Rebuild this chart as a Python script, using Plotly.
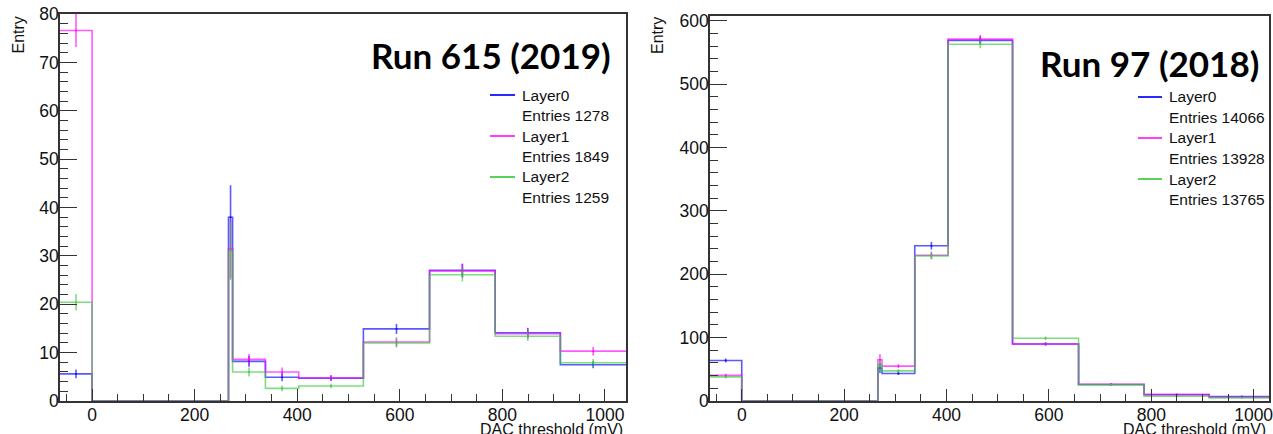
import numpy as np
import plotly.graph_objects as go

# DAC threshold bin edges (mV), shared by both runs
bin_edges = [-62.5, 0, 266, 274, 338, 403, 529, 658, 786, 913, 1041]

layers = ["Layer0", "Layer1", "Layer2"]

# Run 615 (2019)
run615_entries = [1278, 1849, 1259]
run615_layer0 = [5.6, 0, 38.0, 8.2, 4.9, 4.7, 14.9, 27.0, 14.1, 7.5]
run615_layer1 = [76.6, 0, 31.4, 8.6, 6.0, 4.8, 12.2, 26.9, 13.9, 10.3]
run615_layer2 = [20.4, 0, 31.0, 6.0, 2.6, 3.1, 12.0, 26.1, 13.4, 7.9]
run615_err0 = [0.9, 0, 6.6, 1.1, 0.84, 0.59, 1.04, 1.4, 1.02, 0.74]
run615_err1 = [3.4, 0, 6.0, 1.12, 0.93, 0.6, 0.94, 1.4, 1.01, 0.87]
run615_err2 = [1.7, 0, 6.0, 0.93, 0.61, 0.48, 0.93, 1.37, 0.99, 0.76]

# Run 97 (2018)
run97_entries = [14066, 13928, 13765]
run97_layer0 = [64, 0, 52, 43.5, 245, 569, 90, 26, 9.8, 7]
run97_layer1 = [40.5, 0, 65, 55, 230, 571, 90, 26.5, 10.5, 6]
run97_layer2 = [38, 0, 57, 47.5, 229, 563, 99, 25.5, 7.4, 5]
run97_err0 = [3.1, 0, 7.8, 2.5, 5.9, 6.5, 2.55, 1.37, 0.85, 0.72]
run97_err1 = [2.5, 0, 8.7, 2.8, 5.7, 6.5, 2.55, 1.38, 0.88, 0.66]
run97_err2 = [2.4, 0, 8.1, 2.6, 5.7, 6.4, 2.7, 1.35, 0.74, 0.6]

colors = ["rgba(0,0,255,0.65)", "rgba(255,0,255,0.65)", "rgba(60,200,60,0.65)"]

W, H = 1273, 434
FONT = "Liberation Sans, Arial, sans-serif"

fig = go.Figure()

edges = np.array(bin_edges, dtype=float)
centers = 0.5 * (edges[:-1] + edges[1:])


def add_hist(vals, errs, color, xa, ya):
    # step outline of the histogram
    fig.add_trace(go.Scatter(
        x=edges, y=list(vals) + [vals[-1]], mode="lines",
        line=dict(color=color, width=1.6, shape="hv"),
        xaxis=xa, yaxis=ya, showlegend=False, hoverinfo="skip"))
    # statistical error bars at bin centres
    keep = [i for i, v in enumerate(vals) if v > 0]
    fig.add_trace(go.Scatter(
        x=centers[keep], y=[vals[i] for i in keep], mode="markers",
        marker=dict(color=color, size=2),
        error_y=dict(type="data", array=[errs[i] for i in keep],
                     color=color, thickness=1.6, width=0),
        xaxis=xa, yaxis=ya, showlegend=False, hoverinfo="skip"))


for vals, errs, c in zip([run615_layer0, run615_layer1, run615_layer2],
                         [run615_err0, run615_err1, run615_err2], colors):
    add_hist(vals, errs, c, "x", "y")
for vals, errs, c in zip([run97_layer0, run97_layer1, run97_layer2],
                         [run97_err0, run97_err1, run97_err2], colors):
    add_hist(vals, errs, c, "x2", "y2")


def px_x(p):
    return p / W


def px_y(p):
    return (H - p) / H


axis_common = dict(
    showgrid=False, zeroline=False, showline=True, linecolor="#333",
    linewidth=1.5, mirror=True, ticks="inside", tickcolor="#333",
    tickwidth=1.2, automargin=False, ticklabeloverflow="allow",
    tickfont=dict(family=FONT, size=17.5, color="#111"),
)

fig.update_layout(
    template="none",
    width=W, height=H, margin=dict(l=0, r=0, t=0, b=0, autoexpand=False),
    paper_bgcolor="white", plot_bgcolor="white",
    xaxis=dict(axis_common, domain=[px_x(60), px_x(626)], range=[-62.5, 1041],
               dtick=200, ticklen=12, ticklabelstandoff=-3,
               minor=dict(dtick=50, ticklen=7, ticks="inside", tickcolor="#333"),
               anchor="y"),
    yaxis=dict(axis_common, domain=[px_y(401), px_y(14)], range=[0, 80],
               dtick=10, ticklen=17, ticklabelstandoff=-4,
               minor=dict(dtick=2, ticklen=8, ticks="inside", tickcolor="#333"),
               anchor="x"),
    xaxis2=dict(axis_common, domain=[px_x(710), px_x(1269)], range=[-62, 1030],
                dtick=200, ticklen=12, ticklabelstandoff=-3,
                minor=dict(dtick=50, ticklen=7, ticks="inside", tickcolor="#333"),
                anchor="y2"),
    yaxis2=dict(axis_common, domain=[px_y(401), px_y(16)], range=[0, 607.5],
                dtick=100, ticklen=17, ticklabelstandoff=-4,
                minor=dict(dtick=20, ticklen=8, ticks="inside", tickcolor="#333"),
                anchor="x2"),
)

annotations = []
shapes = []

# axis titles
for xc in (18, 657.5):
    annotations.append(dict(text="Entry", x=px_x(xc), y=px_y(15), xref="paper", yref="paper",
                            xanchor="center", yanchor="top", textangle=-90, showarrow=False,
                            font=dict(family=FONT, size=16, color="#111")))
for xr in (625, 1268):
    annotations.append(dict(text="DAC threshold (mV)", x=px_x(xr), y=px_y(429), xref="paper",
                            yref="paper", xanchor="right", yanchor="middle", showarrow=False,
                            font=dict(family=FONT, size=16, color="#111")))

# run labels
annotations.append(dict(text="<b>Run 615 (2019)</b>", x=px_x(613), y=px_y(55), xref="paper",
                        yref="paper", xanchor="right", yanchor="middle", showarrow=False,
                        font=dict(family="Lato", size=35, color="black")))
annotations.append(dict(text="<b>Run 97 (2018)</b>", x=px_x(1261), y=px_y(63), xref="paper",
                        yref="paper", xanchor="right", yanchor="middle", showarrow=False,
                        font=dict(family="Lato", size=35, color="black")))

# legends
legend_color = ["rgb(40,40,255)", "rgb(255,60,255)", "rgb(90,210,90)"]
for (x_line0, x_line1, x_text, y0, entries) in (
        (490, 515, 520, 95, run615_entries),
        (1138, 1162, 1167, 97, run97_entries)):
    for i, name in enumerate(layers):
        yl = y0 + i * 41
        shapes.append(dict(type="line", xref="paper", yref="paper",
                           x0=px_x(x_line0), x1=px_x(x_line1), y0=px_y(yl), y1=px_y(yl),
                           line=dict(color=legend_color[i], width=2)))
        annotations.append(dict(text=name, x=px_x(x_text), y=px_y(yl), xref="paper", yref="paper",
                                xanchor="left", yanchor="middle", showarrow=False,
                                font=dict(family=FONT, size=15.5, color="#111")))
        annotations.append(dict(text=f"Entries {entries[i]}", x=px_x(x_text), y=px_y(yl + 20.5),
                                xref="paper", yref="paper", xanchor="left", yanchor="middle",
                                showarrow=False, font=dict(family=FONT, size=15.5, color="#111")))

fig.update_layout(annotations=annotations, shapes=shapes)

fig.write_html("out.html")
